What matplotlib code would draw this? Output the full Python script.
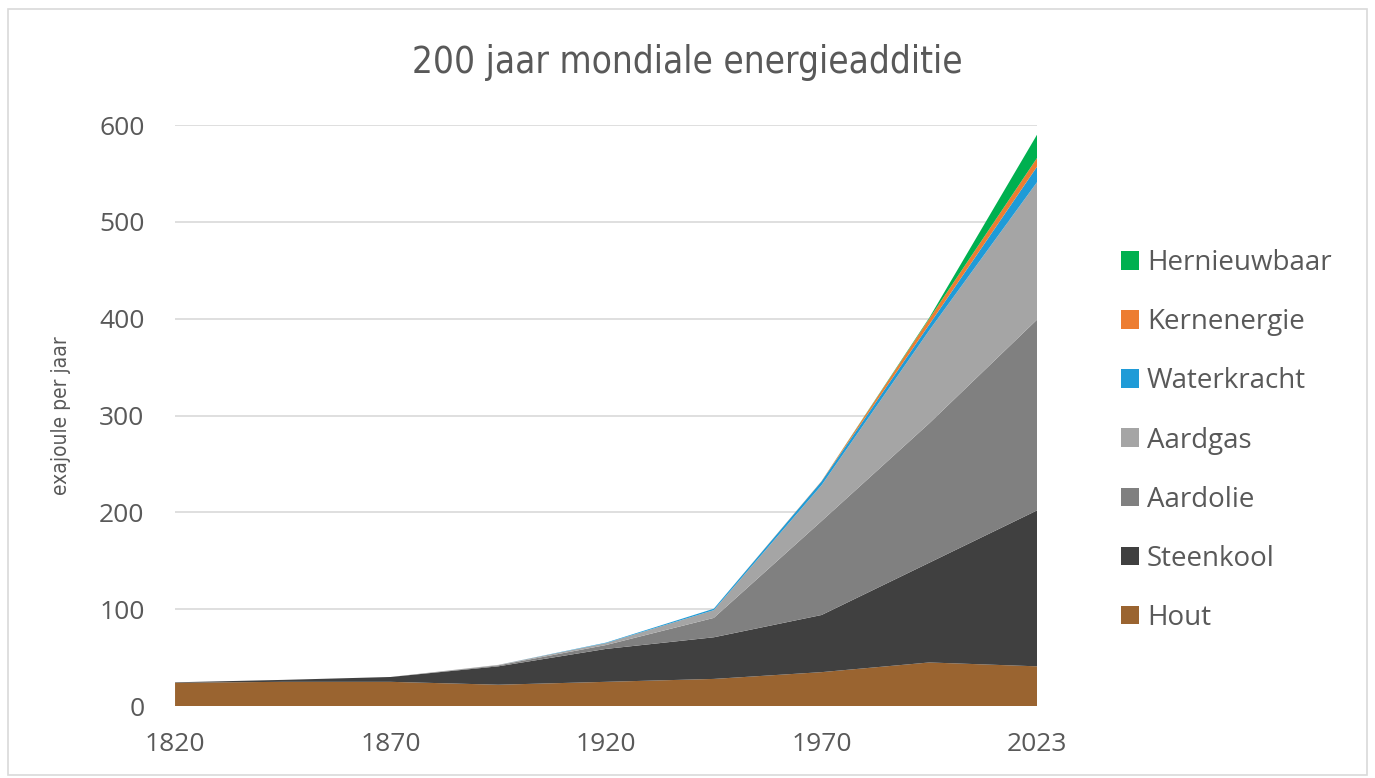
import numpy as np
import matplotlib.pyplot as plt
from matplotlib.patches import Rectangle, Patch

# data points (exajoule per jaar), every 25 years
years = [1820, 1845, 1870, 1895, 1920, 1945, 1970, 1995, 2023]
hout = [24, 25, 25, 22, 25, 28, 35, 45, 41]
steenkool = [0.5, 2, 5, 19, 34, 43, 59, 103, 161]
aardolie = [0, 0, 0, 1, 4, 20, 97, 144, 197]
aardgas = [0, 0, 0, 0.5, 2, 8, 37, 96, 142]
waterkracht = [0, 0, 0, 0, 0.5, 1.5, 4, 6, 16]
kernenergie = [0, 0, 0, 0, 0, 0, 0.3, 6, 9]
hernieuwbaar = [0, 0, 0, 0, 0, 0, 0, 1, 24]

labels = ["Hout", "Steenkool", "Aardolie", "Aardgas", "Waterkracht", "Kernenergie", "Hernieuwbaar"]
colours = ["#9A6430", "#404040", "#808080", "#A5A5A5", "#1F9BD7", "#ED7D31", "#00B050"]
tick_years = [1820, 1870, 1920, 1970, 2023]

text_grey = "#595959"
plt.rcParams['font.family'] = ['Open Sans', 'DejaVu Sans']

fig = plt.figure(figsize=(13.75, 7.78), dpi=100)
ax = fig.add_axes([0.1273, 0.0925, 0.6269, 0.7468])

x = np.arange(len(years))
series = [hout, steenkool, aardolie, aardgas, waterkracht, kernenergie, hernieuwbaar]
ax.stackplot(x, series, colors=colours, labels=labels, linewidth=0)

ax.set_xlim(0, len(years) - 1)
ax.set_ylim(0, 600)
ax.set_yticks(range(0, 601, 100))
ax.set_xticks([years.index(y) for y in tick_years])
ax.set_xticklabels([str(y) for y in tick_years])
ax.grid(axis='y', color='#D9D9D9', linewidth=1.2)
ax.set_axisbelow(True)
for s in ax.spines.values():
    s.set_visible(False)
ax.tick_params(length=0, labelsize=19, labelcolor=text_grey)
ax.tick_params(axis='y', pad=22)
ax.tick_params(axis='x', pad=19)

ax.set_ylabel("exajoule per jaar", fontsize=15, color=text_grey,
              family=['DejaVu Sans'], fontstretch='condensed', labelpad=20)

fig.text(0.5, 0.92, "200 jaar mondiale energieadditie", ha='center', va='center',
         fontsize=26.5, color=text_grey, family=['DejaVu Sans'], fontstretch='condensed')

handles = [Patch(facecolor=c, edgecolor='none') for c in colours]
ax.legend(handles[::-1], labels[::-1], loc='center left', bbox_to_anchor=(1.068, 0.457),
          frameon=False, fontsize=20, labelcolor=text_grey, labelspacing=1.12,
          handlelength=0.65, handleheight=0.65, handletextpad=0.3)

# thin chart border
fig.patches.append(Rectangle((0.006, 0.004), 0.988, 0.985, transform=fig.transFigure,
                             fill=False, edgecolor='#D9D9D9', linewidth=1.2))

fig.savefig("out.png", dpi=100)
